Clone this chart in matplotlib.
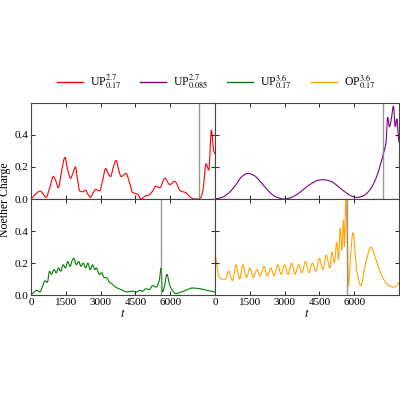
import matplotlib
matplotlib.use("Agg")
import matplotlib.pyplot as plt
from matplotlib.path import Path
from matplotlib.patches import PathPatch
from matplotlib.lines import Line2D
import numpy as np

plt.rcParams['font.family'] = ['Liberation Serif', 'DejaVu Serif']
plt.rcParams['mathtext.fontset'] = 'stix'

t_red = [0,190,386,520,643,800,957,1070,1170,1310,1457,1580,1700,1800,1914,2000,2100,2220,2343,2450,2557,2680,2786,2870,2957,3090,3215,3320,3430,3550,3672,3780,3886,4000,4100,4250,4386,4500,4600,4743,4850,4957,5100,5250,5386,5557,5772,5986,6200,6457,6672,6886,7050,7215,7330,7415,7558,7672,7786,7886,7950]
q_red = [0,0.03,0.05,0.03,0.01,0.07,0.14,0.11,0.07,0.17,0.26,0.18,0.13,0.16,0.2,0.12,0.05,0.045,0.055,0.03,0.01,0.04,0.06,0.055,0.05,0.12,0.19,0.16,0.14,0.2,0.24,0.18,0.14,0.15,0.16,0.1,0.04,0.035,0.03,0.0,0.01,0.02,0.025,0.05,0.08,0.07,0.13,0.09,0.11,0.05,0.04,0.01,0.0,0.0,0.01,0.05,0.22,0.18,0.43,0.3,0.28]

t_pur = [0,300,600,900,1150,1412,1700,2000,2300,2600,2985,3300,3600,3900,4200,4450,4688,5000,5300,5600,5900,6144,6400,6700,6950,7150,7300,7380,7450,7530,7610,7700,7780,7850,7920,7950]
q_pur = [0,0.01,0.04,0.09,0.14,0.16,0.145,0.1,0.05,0.015,0.0,0.01,0.035,0.07,0.1,0.117,0.12,0.11,0.08,0.045,0.018,0.01,0.02,0.06,0.13,0.22,0.3,0.35,0.51,0.45,0.5,0.58,0.45,0.5,0.38,0.35]

t_grn = [0,120,240,380,480,600,700,790,880,980,1080,1180,1280,1380,1480,1580,1680,1780,1843,1950,2050,2150,2250,2350,2450,2550,2650,2750,2815,2950,3050,3150,3250,3386,3500,3650,3800,3958,4150,4350,4550,4700,4815,4950,5100,5250,5400,5530,5616,5660,5750,5860,5990,6100,6244,6500,6750,6958,7300,7600,7950]
q_grn = [0,0.02,0.03,0.02,0.05,0.09,0.08,0.15,0.13,0.16,0.14,0.17,0.15,0.19,0.17,0.21,0.18,0.22,0.23,0.19,0.21,0.18,0.2,0.17,0.2,0.16,0.19,0.16,0.17,0.13,0.14,0.11,0.11,0.08,0.07,0.05,0.04,0.03,0.02,0.025,0.02,0.03,0.025,0.04,0.035,0.06,0.05,0.09,0.17,0.02,0.05,0.13,0.06,0.03,0.01,0.02,0.035,0.045,0.04,0.03,0.02]

t_org = [0,60,150,300,450,584,750,903,1050,1200,1350,1500,1650,1800,1950,2100,2250,2400,2550,2700,2850,3000,3150,3300,3450,3600,3750,3900,4050,4200,4350,4500,4650,4800,4950,5050,5150,5250,5330,5400,5470,5540,5590,5640,5700,5760,5850,5950,6120,6290,6500,6730,6950,7200,7500,7750,7950]
q_org = [0.26,0.2,0.12,0.1,0.1,0.15,0.09,0.19,0.1,0.19,0.11,0.17,0.11,0.16,0.12,0.18,0.12,0.17,0.12,0.19,0.13,0.19,0.13,0.2,0.13,0.19,0.14,0.21,0.14,0.2,0.15,0.23,0.16,0.25,0.17,0.27,0.2,0.33,0.22,0.42,0.28,0.47,0.3,0.62,0.4,0.06,0.25,0.39,0.15,0.06,0.2,0.3,0.22,0.12,0.06,0.05,0.08]

vlines = [7240, 7240, 5614, 5700]
labels = [r'UP$^{2.7}_{0.17}$', r'UP$^{2.7}_{0.085}$', r'UP$^{3.6}_{0.17}$', r'OP$^{3.6}_{0.17}$']
colors = ['red', 'purple', 'green', 'orange']
xticks = [0, 1500, 3000, 4500, 6000]


def smooth_path(t, q):
    x = np.asarray(t, float); y = np.asarray(q, float)
    n = len(x)
    m = np.zeros(n)
    d = np.diff(y) / np.diff(x)
    m[0], m[-1] = d[0], d[-1]
    for i in range(1, n - 1):
        if d[i-1] * d[i] <= 0:
            m[i] = 0
        else:
            m[i] = 2 / (1 / d[i-1] + 1 / d[i])
    verts = [(x[0], y[0])]; codes = [Path.MOVETO]
    for i in range(n - 1):
        h = x[i+1] - x[i]
        verts += [(x[i] + h/3, y[i] + m[i]*h/3), (x[i+1] - h/3, y[i+1] - m[i+1]*h/3), (x[i+1], y[i+1])]
        codes += [Path.CURVE4] * 3
    return Path(verts, codes)


fig, axes = plt.subplots(2, 2, figsize=(4, 4), dpi=100, sharex=True, sharey=True)
fig.subplots_adjust(left=0.078, right=0.998, top=0.743, bottom=0.262, wspace=0, hspace=0)
data = [(t_red, q_red), (t_pur, q_pur), (t_grn, q_grn), (t_org, q_org)]
handles = []
for ax, (t, q), c, lab, vl in zip(axes.flat, data, colors, labels, vlines):
    ax.axvline(vl, color='gray', lw=1, alpha=0.8)
    ax.add_patch(PathPatch(smooth_path(t, q), facecolor='none', edgecolor=c, lw=0.8))
    handles.append(Line2D([], [], color=c, lw=1.0))
    ax.set_xlim(0, 7950)
    ax.set_ylim(0, 0.6)
    ax.set_xticks(xticks)
    ax.set_yticks([0, 0.2, 0.4])
    ax.tick_params(direction='in', top=True, right=True, labelsize=8, length=3, width=0.6, pad=2)
    for s in ax.spines.values():
        s.set_color('#444444')
        s.set_linewidth(0.8)
for ax in axes[:, 0]:
    ax.set_yticklabels(['0.0', '0.2', '0.4'])
for ax in axes[1, :]:
    ax.set_xlabel('$t$', fontsize=9, labelpad=1)
fig.text(0.012, 0.5, 'Noether Charge', rotation=90, va='center', ha='center', fontsize=8.5)
fig.legend(handles, labels, loc='lower center', bbox_to_anchor=(0.54, 0.745), ncol=4, frameon=False,
           fontsize=8.5, handlelength=2.2, columnspacing=1.6, handletextpad=0.6)
fig.savefig('out.png', dpi=100)
